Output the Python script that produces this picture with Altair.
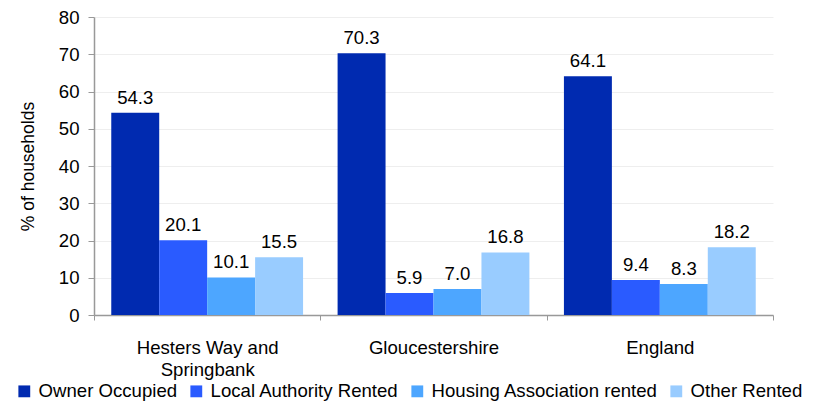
import altair as alt
import pandas as pd

areas = ["Hesters Way and Springbank", "Gloucestershire", "England"]
tenures = ["Owner Occupied", "Local Authority Rented", "Housing Association rented", "Other Rented"]
values = [
    [54.3, 20.1, 10.1, 15.5],
    [70.3, 5.9, 7.0, 16.8],
    [64.1, 9.4, 8.3, 18.2],
]
colors = ["#002AB0", "#2A5BFF", "#4DA6FF", "#99CCFF"]
y_ticks = [0, 10, 20, 30, 40, 50, 60, 70, 80]

rows = []
for a, vals in zip(areas, values):
    for t, v in zip(tenures, vals):
        rows.append({"area": a, "tenure": t, "value": v, "label": f"{v:.1f}"})
df = pd.DataFrame(rows)

FONT = "Liberation Sans"
FS = 18.6
FS_TITLE = 17.5

x = alt.X(
    "area:N",
    sort=areas,
    scale=alt.Scale(paddingInner=0, paddingOuter=0),
    axis=alt.Axis(
        title=None,
        labelAngle=0,
        tickBand="extent",
        domainColor="#999999",
        tickColor="#999999",
        tickSize=5,
        labelPadding=18,
        labelFontSize=FS,
        labelColor="#000000",
        labelFont=FONT,
        labelLineHeight=22,
        labelExpr="datum.label == 'Hesters Way and Springbank' ? ['Hesters Way and', 'Springbank'] : datum.label",
    ),
)
xoff = alt.XOffset("tenure:N", sort=tenures, scale=alt.Scale(paddingInner=0, paddingOuter=0.36))
y = alt.Y(
    "value:Q",
    scale=alt.Scale(domain=[0, 80], nice=False),
    axis=alt.Axis(
        title="% of households",
        values=y_ticks,
        titleFontSize=FS_TITLE,
        titleFontWeight="normal",
        titleFont=FONT,
        titleColor="#000000",
        titlePadding=21,
        labelFontSize=FS,
        labelFont=FONT,
        labelColor="#000000",
        labelPadding=9,
        tickSize=6,
        tickColor="#999999",
        domainColor="#999999",
        gridColor="#eeeeee",
    ),
)
color = alt.Color(
    "tenure:N",
    sort=tenures,
    scale=alt.Scale(domain=tenures, range=colors),
    legend=alt.Legend(
        title=None,
        orient="none",
        direction="horizontal",
        columns=4,
        legendX=-79,
        legendY=365,
        symbolType="square",
        symbolSize=140,
        symbolStrokeWidth=0,
        symbolOpacity=1,
        labelFontSize=FS,
        labelFont=FONT,
        labelColor="#000000",
        labelOffset=5,
        labelLimit=400,
        columnPadding=9,
    ),
)

bars = alt.Chart(df).mark_bar().encode(x=x, xOffset=xoff, y=y, color=color)
text = alt.Chart(df).mark_text(
    baseline="alphabetic", dy=-9, fontSize=FS, font=FONT, color="#000000"
).encode(x=x, xOffset=xoff, y=y, text="label:N")

chart = (
    alt.layer(bars, text)
    .properties(width=679, height=298, padding={"left": 86, "top": 9, "right": 33, "bottom": 88})
    .configure(autosize=alt.AutoSizeParams(type="none"))
    .configure_view(stroke=None)
    .configure_axis(domainWidth=1.5)
)
chart.save("out.html", embed_options={"renderer": "svg", "actions": False})
